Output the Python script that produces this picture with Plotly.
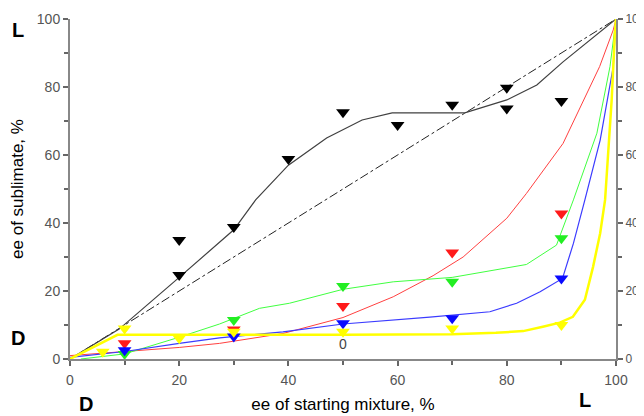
import plotly.graph_objects as go

# ---- data ----
black_pts_x = [20, 20, 30, 40, 50, 60, 70, 80, 80, 90]
black_pts_y = [35, 24.7, 38.8, 58.8, 72.6, 68.8, 74.8, 79.8, 73.7, 75.9]
black_line_x = [0, 9, 20, 30, 34, 40, 47, 53.5, 59, 70, 72.3, 80, 85.5, 90.3, 100]
black_line_y = [0, 8.8, 24, 38, 46.8, 57, 65, 70.3, 72.4, 72.3, 72.4, 76.2, 80.6, 87.4, 100]

diag_x = [0, 100]
diag_y = [0, 100]

red_pts_x = [10, 30, 50, 70, 90]
red_pts_y = [4.6, 8.7, 15.6, 31.3, 42.8]
red_line_x = [0, 10, 20, 27.4, 39, 50, 59.2, 66.5, 72, 80, 83.6, 90.3, 97, 99.5, 100]
red_line_y = [1, 2.2, 3.4, 4.6, 7.5, 12.2, 18.3, 24.5, 30, 41.4, 48.7, 63.4, 86, 96.8, 100]

green_pts_x = [10, 30, 50, 70, 90]
green_pts_y = [1.5, 11.5, 21.5, 22.7, 35.5]
green_line_x = [2, 10, 20, 27.4, 34.7, 40.2, 50, 59.2, 70, 83.6, 89.1, 92.2, 96.5, 98.9, 100]
green_line_y = [0, 1.5, 6.4, 10.3, 14.9, 16.4, 20.5, 22.7, 24, 27.8, 33.5, 46.8, 66.4, 86, 100]

blue_pts_x = [10, 30, 50, 70, 90]
blue_pts_y = [2.6, 6.6, 10.5, 12, 23.7]
blue_line_x = [0, 10, 20, 27.4, 39, 50, 65.9, 70, 76.9, 81.8, 86.1, 90.2, 92.2, 94.3, 97.1, 99.5, 100]
blue_line_y = [0.5, 2.2, 4.6, 6.2, 8, 10.3, 12.3, 12.9, 13.9, 16.4, 19.8, 23.7, 34, 46.8, 64.4, 86, 100]

yellow_pts_x = [6, 10, 20, 30, 50, 70, 90]
yellow_pts_y = [2.1, 9, 6.1, 8, 8, 9, 10]
yellow_line_x = [0, 8.7, 50, 60, 70, 78, 83, 86.6, 89.7, 92.1, 94.3, 95.8, 97.1, 98, 99.2, 99.8, 100]
yellow_line_y = [0, 7.1, 7.1, 7.3, 7.3, 7.7, 8.2, 9.5, 10.7, 12.4, 17.4, 27.1, 37, 46.8, 76, 95.8, 100]

ticks = [0, 20, 40, 60, 80, 100]
tick_labels = ["0", "20", "40", "60", "80", "100"]

fig = go.Figure()

fig.add_trace(go.Scatter(x=diag_x, y=diag_y, mode="lines",
                         line=dict(color="#222222", width=1, dash="dashdot")))

series = [
    (black_line_x, black_line_y, black_pts_x, black_pts_y, "#404040", "#000000", 1.2),
    (red_line_x, red_line_y, red_pts_x, red_pts_y, "#ff4040", "#ff1a1a", 1),
    (green_line_x, green_line_y, green_pts_x, green_pts_y, "#40ff40", "#22ee22", 1),
    (blue_line_x, blue_line_y, blue_pts_x, blue_pts_y, "#3b3bff", "#0a0aff", 1.2),
    (yellow_line_x, yellow_line_y, yellow_pts_x, yellow_pts_y, "#ffff00", "#ffff00", 2.5),
]
for lx, ly, px, py, lc, mc, lw in series:
    fig.add_trace(go.Scatter(x=lx, y=ly, mode="lines", line=dict(color=lc, width=lw)))
for lx, ly, px, py, lc, mc, lw in series:
    fig.add_trace(go.Scatter(x=px, y=py, mode="markers",
                             marker=dict(symbol="triangle-down", size=12, color=mc,
                                         line=dict(width=0))))

# invisible trace for right axis
fig.add_trace(go.Scatter(x=[0], y=[0], yaxis="y2", mode="markers",
                         marker=dict(opacity=0), hoverinfo="skip"))

axis_common = dict(
    range=[0, 100], tickvals=ticks, ticktext=tick_labels, ticks="outside", ticklen=5,
    tickwidth=1.5, tickcolor="#666666", showline=True, linecolor="#888888", linewidth=2,
    showgrid=False, zeroline=False, automargin=False,
    tickfont=dict(family="Liberation Sans, Arial", size=14, color="#555555"),
    minor=dict(dtick=10, tick0=0, ticks="outside", ticklen=4, tickcolor="#666666", tickwidth=1.5),
)

# page body has an 8px default margin: figure is drawn offset by (8, 8)
OFF = 8
W, H = 644 - OFF, 416 - OFF
# target plot area in screen pixels: x 70..616, y 19..359
L, R, T, B = 70 - OFF, 644 - 616, 19 - OFF, 416 - 359
fig.update_layout(
    width=W, height=H,
    margin=dict(l=L, r=R, t=T, b=B, autoexpand=False),
    paper_bgcolor="white", plot_bgcolor="white",
    showlegend=False,
    xaxis=dict(**axis_common, ticklabelstandoff=2,
               title=dict(text="ee of starting mixture, %", standoff=11,
                          font=dict(family="Liberation Sans, Arial", size=17, color="#000000"))),
    yaxis=dict(**axis_common,
               title=dict(text="ee of sublimate, %", standoff=9,
                          font=dict(family="Liberation Sans, Arial", size=17, color="#000000"))),
    yaxis2=dict(**{k: v for k, v in axis_common.items() if k != "tickfont"},
                tickfont=dict(family="Liberation Sans, Arial", size=12, color="#555555"),
                ticklabelstandoff=0,
                overlaying="y", side="right", anchor="x"),
)

# pixel-positioned corner labels (screen coords) converted to paper coordinates
pw, ph = W - L - R, H - T - B
def px2paper(px, py):
    return (px - OFF - L) / pw, (H - B - (py - OFF)) / ph

for txt, px, py in [("L", 18, 30), ("D", 18, 338), ("D", 86, 404), ("L", 585, 400)]:
    ax_, ay_ = px2paper(px, py)
    fig.add_annotation(text="<b>%s</b>" % txt, x=ax_, y=ay_, xref="paper", yref="paper",
                       xanchor="center", yanchor="middle", showarrow=False,
                       font=dict(family="Liberation Sans, Arial", size=20, color="#000000"))
fig.add_annotation(text="0", x=50, y=4.4, xref="x", yref="y", showarrow=False,
                   font=dict(family="Liberation Sans, Arial", size=14, color="#444444"))

fig.write_html("out.html")
